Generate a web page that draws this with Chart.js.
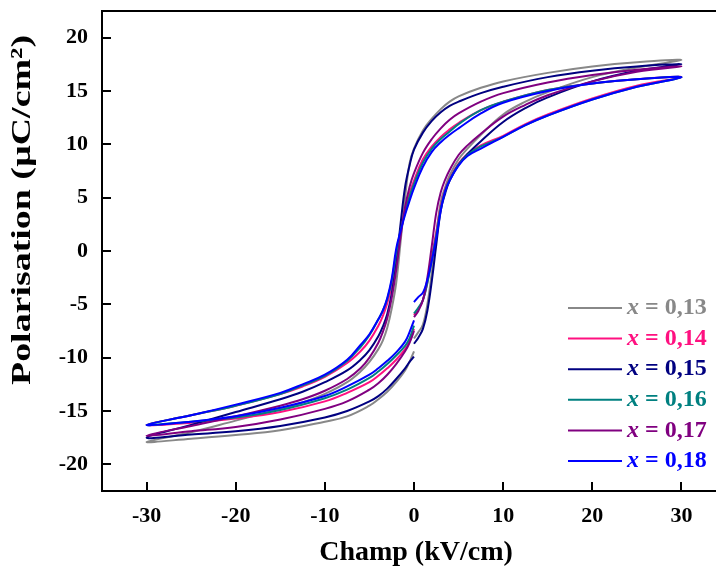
<!DOCTYPE html>
<html>
<head>
    <meta charset="utf-8">
    <title>Cycles d'hystérésis P-E</title>
    <style>
        body {
            margin: 0;
            background: #fff;
        }

        .chart-box {
            width: 716px;
            height: 571px;
            overflow: hidden;
        }
    </style>
    <script src="https://cdn.jsdelivr.net/npm/chart.js"></script>
</head>
<body>

    <div class="chart-box">
        <canvas id="peChart" width="730" height="571"></canvas>
    </div>

    <script>
        // field sweep (kV/cm): 0 -> +30, +30 -> -30, -30 -> 0
        const fieldRise = [0, 0.5, 1, 1.5, 2, 2.5, 3, 3.5, 4, 5, 6, 7.5, 10, 12.5, 15, 20, 25, 30];
        const fieldFall = [25, 20, 15, 10, 7.5, 5, 4, 3, 2, 1, 0, -0.5, -1, -1.5, -2, -2.5, -3, -3.5, -4, -5, -6, -7.5, -10, -12.5, -15, -20, -25, -30];
        const fieldReturn = [-25, -20, -15, -10, -7.5, -5, -4, -3, -2, -1, -0.5, 0];

        // polarisation (µC/cm²), same order as the sweep above
        const pol13 = [
            -8.2, -7.6, -6.9, -5.0, -2.0, 1.5, 4.6, 6.0, 7.1, 8.6, 9.6, 10.9, 12.8, 14.0, 14.9, 16.3, 17.2, 17.9,
            17.7, 17.3, 16.7, 15.9, 15.3, 14.5, 14.0, 13.3, 12.4, 11.3, 9.6, 8.2, 5.0, 0.9, -3.0, -5.4, -7.2, -8.4, -9.2, -10.4, -11.3, -12.3, -13.4, -14.2, -14.8, -15.9, -17.0, -17.9,
            -17.6, -17.25, -16.8, -16.0, -15.5, -14.5, -13.9, -13.2, -12.3, -11.2, -10.4, -9.4
        ];
        const pol14 = [
            -6.0, -5.4, -4.6, -2.9, -0.5, 1.8, 4.2, 5.8, 6.8, 8.2, 9.1, 9.9, 10.8, 11.9, 12.8, 14.3, 15.5, 16.3,
            16.1, 15.7, 15.1, 14.0, 13.2, 12.0, 11.4, 10.7, 9.8, 8.6, 6.6, 5.4, 3.8, 1.8, -0.6, -3.2, -4.9, -6.1, -7.0, -8.4, -9.4, -10.5, -11.8, -12.7, -13.4, -14.5, -15.4, -16.3,
            -16.1, -15.7, -15.1, -14.1, -13.3, -12.3, -11.7, -11.0, -10.2, -9.2, -8.5, -7.3
        ];
        const pol15 = [
            -8.7, -8.1, -7.3, -5.6, -2.8, 0.6, 3.8, 5.4, 6.6, 8.1, 9.1, 10.3, 12.1, 13.4, 14.4, 15.9, 16.9, 17.5,
            17.3, 16.9, 16.3, 15.4, 14.8, 14.0, 13.6, 13.0, 12.2, 11.1, 9.5, 8.0, 6.0, 2.6, -1.2, -4.0, -5.9, -7.1, -8.0, -9.3, -10.2, -11.2, -12.3, -13.2, -13.9, -15.1, -16.3, -17.5,
            -17.2, -16.9, -16.4, -15.6, -15.0, -14.1, -13.6, -12.9, -12.0, -11.0, -10.4, -9.9
        ];
        const pol16 = [
            -5.85, -5.3, -4.6, -3.0, -0.8, 1.5, 4.0, 5.7, 6.7, 8.1, 9.0, 9.8, 10.7, 11.8, 12.7, 14.2, 15.4, 16.3,
            16.1, 15.7, 15.1, 14.0, 13.2, 11.9, 11.2, 10.5, 9.6, 8.3, 6.3, 5.1, 3.6, 1.9, -0.2, -2.8, -4.5, -5.6, -6.4, -7.9, -9.0, -10.3, -11.7, -12.6, -13.4, -14.5, -15.4, -16.3,
            -16.0, -15.6, -14.9, -13.8, -13.0, -11.9, -11.3, -10.6, -9.8, -8.9, -8.2, -7.0
        ];
        const pol17 = [
            -6.2, -5.6, -4.6, -2.5, 0.5, 3.6, 5.5, 6.7, 7.6, 9.0, 9.9, 11.0, 12.6, 13.7, 14.6, 15.9, 16.8, 17.3,
            17.0, 16.5, 15.8, 14.8, 14.0, 12.9, 12.3, 11.5, 10.5, 9.2, 7.3, 6.0, 4.1, 1.4, -1.8, -4.4, -6.3, -7.6, -8.6, -10.0, -11.0, -12.0, -13.1, -13.9, -14.5, -15.5, -16.4, -17.3,
            -16.9, -16.5, -15.8, -14.8, -14.1, -13.0, -12.4, -11.6, -10.6, -9.4, -8.6, -7.5
        ];
        const pol18 = [
            -4.8, -4.3, -3.9, -2.7, -0.9, 1.2, 3.8, 5.6, 6.6, 8.0, 8.9, 9.6, 10.7, 11.8, 12.7, 14.2, 15.4, 16.3,
            16.1, 15.7, 15.0, 13.9, 12.9, 11.5, 10.9, 10.2, 9.3, 7.9, 5.9, 4.7, 3.4, 1.9, 0.2, -2.6, -4.4, -5.6, -6.4, -7.8, -8.8, -10.2, -11.6, -12.5, -13.3, -14.4, -15.4, -16.3,
            -16.0, -15.5, -14.7, -13.6, -12.7, -11.6, -11.0, -10.3, -9.5, -8.5, -7.6, -6.5
        ];

        const seriesNames = ['0,13', '0,14', '0,15', '0,16', '0,17', '0,18'];
        const seriesPol = [pol13, pol14, pol15, pol16, pol17, pol18];
        const seriesColors = ['#888888', '#ff1080', '#000080', '#008080', '#800080', '#0000ff'];

        const xTicks = [-30, -20, -10, 0, 10, 20, 30];
        const yTicks = [-20, -15, -10, -5, 0, 5, 10, 15, 20];

        const field = fieldRise.concat(fieldFall, fieldReturn);
        const serif = '"Liberation Serif", "Times New Roman", serif';

        // frame, inward ticks, axis titles and the legend inside the plot
        const decorations = {
            id: 'decorations',
            afterDraw(chart) {
                const ctx = chart.ctx;
                const area = chart.chartArea;
                const xs = chart.scales.x;
                const ys = chart.scales.y;
                ctx.save();
                ctx.strokeStyle = '#000';
                ctx.lineWidth = 2;
                ctx.beginPath();
                ctx.moveTo(area.left, area.top);
                ctx.lineTo(area.right, area.top);
                ctx.lineTo(area.right, area.bottom);
                ctx.stroke();

                ctx.beginPath();
                xTicks.forEach(v => {
                    const p = Math.round(xs.getPixelForValue(v));
                    ctx.moveTo(p, area.bottom);
                    ctx.lineTo(p, area.bottom - 9);
                });
                yTicks.forEach(v => {
                    const p = Math.round(ys.getPixelForValue(v));
                    ctx.moveTo(area.left, p);
                    ctx.lineTo(area.left + 9, p);
                });
                ctx.stroke();

                ctx.fillStyle = '#000';
                ctx.font = 'bold 28px ' + serif;
                ctx.textAlign = 'center';
                ctx.textBaseline = 'middle';
                ctx.fillText('Champ (kV/cm)', (area.left + area.right) / 2 + 2, 553);

                // y title is drawn long and narrow in the source, stretch it along its length
                const yTitle = 'Polarisation (µC/cm²)';
                ctx.save();
                ctx.font = 'bold 28px ' + serif;
                const stretch = 350 / ctx.measureText(yTitle).width;
                ctx.translate(23, 210);
                ctx.rotate(-Math.PI / 2);
                ctx.scale(stretch, 1);
                ctx.fillText(yTitle, 0, 0);
                ctx.restore();

                ctx.textAlign = 'left';
                seriesNames.forEach((name, i) => {
                    const y = 308 + i * 30.6;
                    ctx.strokeStyle = seriesColors[i];
                    ctx.lineWidth = 2;
                    ctx.beginPath();
                    ctx.moveTo(568, y);
                    ctx.lineTo(622, y);
                    ctx.stroke();
                    ctx.fillStyle = seriesColors[i];
                    ctx.font = 'italic bold 24px ' + serif;
                    ctx.fillText('x', 627, y);
                    const w = ctx.measureText('x').width;
                    ctx.font = 'bold 24px ' + serif;
                    ctx.fillText(' = ' + name, 627 + w, y);
                });
                ctx.restore();
            }
        };

        const datasets = seriesNames.map((name, i) => ({
            label: 'x = ' + name,
            data: field.map((e, k) => ({ x: e, y: seriesPol[i][k] })),
            borderColor: seriesColors[i],
            borderWidth: 2,
            pointRadius: 0,
            showLine: true,
            tension: 0.4,
            fill: false,
            order: seriesNames.length - i
        }));

        function noPadding(scale) {
            scale.paddingTop = 0;
            scale.paddingBottom = 0;
            scale.paddingLeft = 0;
            scale.paddingRight = 0;
        }

        new Chart(document.getElementById('peChart'), {
            type: 'scatter',
            data: { datasets: datasets },
            options: {
                responsive: false,
                animation: false,
                layout: { padding: { top: 11, right: 4, left: 0, bottom: 0 } },
                plugins: {
                    legend: { display: false },
                    tooltip: { enabled: false }
                },
                scales: {
                    x: {
                        type: 'linear',
                        min: -35,
                        max: 35,
                        afterBuildTicks: scale => { scale.ticks = xTicks.map(v => ({ value: v })); },
                        afterFit: scale => { scale.height = 80; noPadding(scale); },
                        grid: { display: false, drawTicks: false },
                        border: { display: true, color: '#000', width: 2 },
                        ticks: {
                            color: '#000',
                            padding: 12,
                            maxRotation: 0,
                            font: { family: serif, size: 22, weight: 'bold' }
                        }
                    },
                    y: {
                        type: 'linear',
                        min: -22.5,
                        max: 22.5,
                        afterBuildTicks: scale => { scale.ticks = yTicks.map(v => ({ value: v })); },
                        afterFit: scale => { scale.width = 102; noPadding(scale); },
                        grid: { display: false, drawTicks: false },
                        border: { display: true, color: '#000', width: 2 },
                        ticks: {
                            color: '#000',
                            padding: 14,
                            font: { family: serif, size: 22, weight: 'bold' }
                        }
                    }
                }
            },
            plugins: [decorations]
        });
    </script>

</body>
</html>
